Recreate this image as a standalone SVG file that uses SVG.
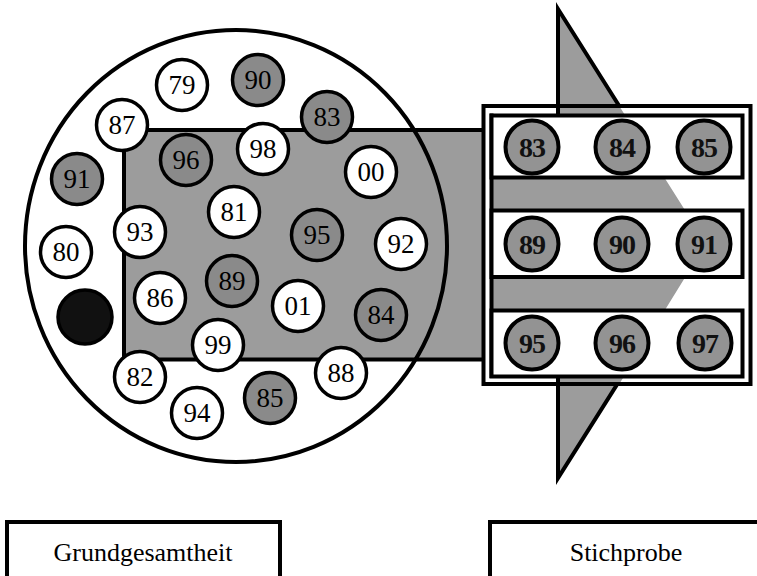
<svg xmlns="http://www.w3.org/2000/svg" width="757" height="576" viewBox="0 0 757 576">
<style>
  text{font-family:'Liberation Serif','DejaVu Serif','Noto Serif','Times New Roman',serif}
  .lbl{font-size:27px;text-anchor:middle;fill:#000}
  .rowlbl{font-size:28px;font-weight:bold;text-anchor:middle;fill:#111;letter-spacing:-1px}
  .cap{font-size:26px;text-anchor:middle;fill:#000}
  .w{fill:#fff;stroke:#000;stroke-width:3.5}
  .g{fill:#8a8a8a;stroke:#000;stroke-width:3.5}
  .rg{fill:#939393;stroke:#000;stroke-width:4}
  .blk{fill:#111;stroke:#000;stroke-width:3.5}
  .ln{stroke:#000;stroke-width:4;fill:none}
</style>
<rect width="757" height="576" fill="#fff"/>

<g id="grundgesamtheit-area">
  <ellipse cx="236" cy="246" rx="211" ry="216" fill="#fff"/>
</g>

<g id="connectors">
  <rect x="124" y="130" width="360" height="229.5" fill="#9c9c9c" stroke="#000" stroke-width="4"/>
  <polygon points="558,9 706,243.5 558,478" fill="#9c9c9c" stroke="#000" stroke-width="4" stroke-linejoin="miter"/>
</g>

<g id="population-outline">
  <ellipse cx="236" cy="246" rx="211" ry="216" fill="none" stroke="#000" stroke-width="4"/>
</g>

<g id="sample-frame">
  <rect x="483.5" y="106" width="267" height="278" fill="#fff" stroke="#000" stroke-width="4"/>
  <polygon points="491.5,130 558,130 558,108 620.5,108 706,243.5 620.5,382 558,382 558,359.5 491.5,359.5" fill="#9c9c9c"/>
  <line class="ln" x1="558" y1="106" x2="558" y2="114"/>
  <line class="ln" x1="558" y1="376" x2="558" y2="384"/>
  <line class="ln" x1="491.5" y1="113.5" x2="491.5" y2="378"/>
</g>

<g id="row1">
  <rect x="491.5" y="115.5" width="251" height="62" fill="#fff" stroke="#000" stroke-width="4"/>
  <g id="s83"><circle class="rg" cx="532" cy="147" r="26.5"/><text class="rowlbl" font-family="Liberation Serif, DejaVu Serif, serif" x="532" y="156.5">83</text></g>
  <g id="s84"><circle class="rg" cx="622" cy="147" r="26.5"/><text class="rowlbl" font-family="Liberation Serif, DejaVu Serif, serif" x="622" y="156.5">84</text></g>
  <g id="s85"><circle class="rg" cx="704" cy="147" r="26.5"/><text class="rowlbl" font-family="Liberation Serif, DejaVu Serif, serif" x="704" y="156.5">85</text></g>
</g>
<g id="row2">
  <rect x="491.5" y="210.5" width="251" height="66.5" fill="#fff" stroke="#000" stroke-width="4"/>
  <g id="s89"><circle class="rg" cx="532" cy="244" r="26.5"/><text class="rowlbl" x="532" y="253.5">89</text></g>
  <g id="s90"><circle class="rg" cx="622" cy="244" r="26.5"/><text class="rowlbl" x="622" y="253.5">90</text></g>
  <g id="s91"><circle class="rg" cx="704" cy="244" r="26.5"/><text class="rowlbl" x="704" y="253.5">91</text></g>
</g>
<g id="row3">
  <rect x="491.5" y="310.5" width="251" height="66" fill="#fff" stroke="#000" stroke-width="4"/>
  <g id="s95"><circle class="rg" cx="532" cy="343" r="26.5"/><text class="rowlbl" x="532" y="352.5">95</text></g>
  <g id="s96"><circle class="rg" cx="622" cy="343" r="26.5"/><text class="rowlbl" x="622" y="352.5">96</text></g>
  <g id="s97"><circle class="rg" cx="705" cy="343" r="26.5"/><text class="rowlbl" x="705" y="352.5">97</text></g>
</g>

<g id="population">
  <g id="p79"><circle class="w" cx="182" cy="85" r="25.5"/><text class="lbl" x="182" y="94">79</text></g>
  <g id="p90"><circle class="g" cx="258" cy="80" r="25.5"/><text class="lbl" x="258" y="89">90</text></g>
  <g id="p83"><circle class="g" cx="327" cy="117" r="25.5"/><text class="lbl" x="327" y="126">83</text></g>
  <g id="p87"><circle class="w" cx="122" cy="125" r="25.5"/><text class="lbl" x="122" y="134">87</text></g>
  <g id="p96"><circle class="g" cx="186" cy="160" r="25.5"/><text class="lbl" x="186" y="169">96</text></g>
  <g id="p98"><circle class="w" cx="263" cy="149" r="25.5"/><text class="lbl" x="263" y="158">98</text></g>
  <g id="p00"><circle class="w" cx="371" cy="172" r="25.5"/><text class="lbl" x="371" y="181">00</text></g>
  <g id="p91"><circle class="g" cx="77" cy="179" r="25.5"/><text class="lbl" x="77" y="188">91</text></g>
  <g id="p81"><circle class="w" cx="234" cy="212" r="25.5"/><text class="lbl" x="234" y="221">81</text></g>
  <g id="p93"><circle class="w" cx="140" cy="232" r="25.5"/><text class="lbl" x="140" y="241">93</text></g>
  <g id="p95"><circle class="g" cx="317" cy="235" r="25.5"/><text class="lbl" x="317" y="244">95</text></g>
  <g id="p92"><circle class="w" cx="401" cy="244" r="25.5"/><text class="lbl" x="401" y="253">92</text></g>
  <g id="p80"><circle class="w" cx="66" cy="252" r="25.5"/><text class="lbl" x="66" y="261">80</text></g>
  <g id="p89"><circle class="g" cx="232" cy="281" r="25.5"/><text class="lbl" x="232" y="290">89</text></g>
  <g id="p86"><circle class="w" cx="160" cy="298" r="25.5"/><text class="lbl" x="160" y="307">86</text></g>
  <g id="p01"><circle class="w" cx="298" cy="306" r="25.5"/><text class="lbl" x="298" y="315">01</text></g>
  <g id="p84"><circle class="g" cx="381" cy="315" r="25.5"/><text class="lbl" x="381" y="324">84</text></g>
  <g id="pblack"><circle class="blk" cx="85" cy="317" r="27"/></g>
  <g id="p99"><circle class="w" cx="218" cy="345" r="25.5"/><text class="lbl" x="218" y="354">99</text></g>
  <g id="p82"><circle class="w" cx="140" cy="377" r="25.5"/><text class="lbl" x="140" y="386">82</text></g>
  <g id="p88"><circle class="w" cx="341" cy="373" r="25.5"/><text class="lbl" x="341" y="382">88</text></g>
  <g id="p85"><circle class="g" cx="270" cy="398" r="25.5"/><text class="lbl" x="270" y="407">85</text></g>
  <g id="p94"><circle class="w" cx="197" cy="413" r="25.5"/><text class="lbl" x="197" y="422">94</text></g>
</g>

<g id="label-grundgesamtheit">
  <rect x="7" y="522" width="273" height="70" fill="#fff" stroke="#000" stroke-width="4"/>
  <text class="cap" x="143" y="561">Grundgesamtheit</text>
</g>
<g id="label-stichprobe">
  <rect x="490" y="522" width="280" height="70" fill="#fff" stroke="#000" stroke-width="4"/>
  <text class="cap" x="626" y="561">Stichprobe</text>
</g>
</svg>
